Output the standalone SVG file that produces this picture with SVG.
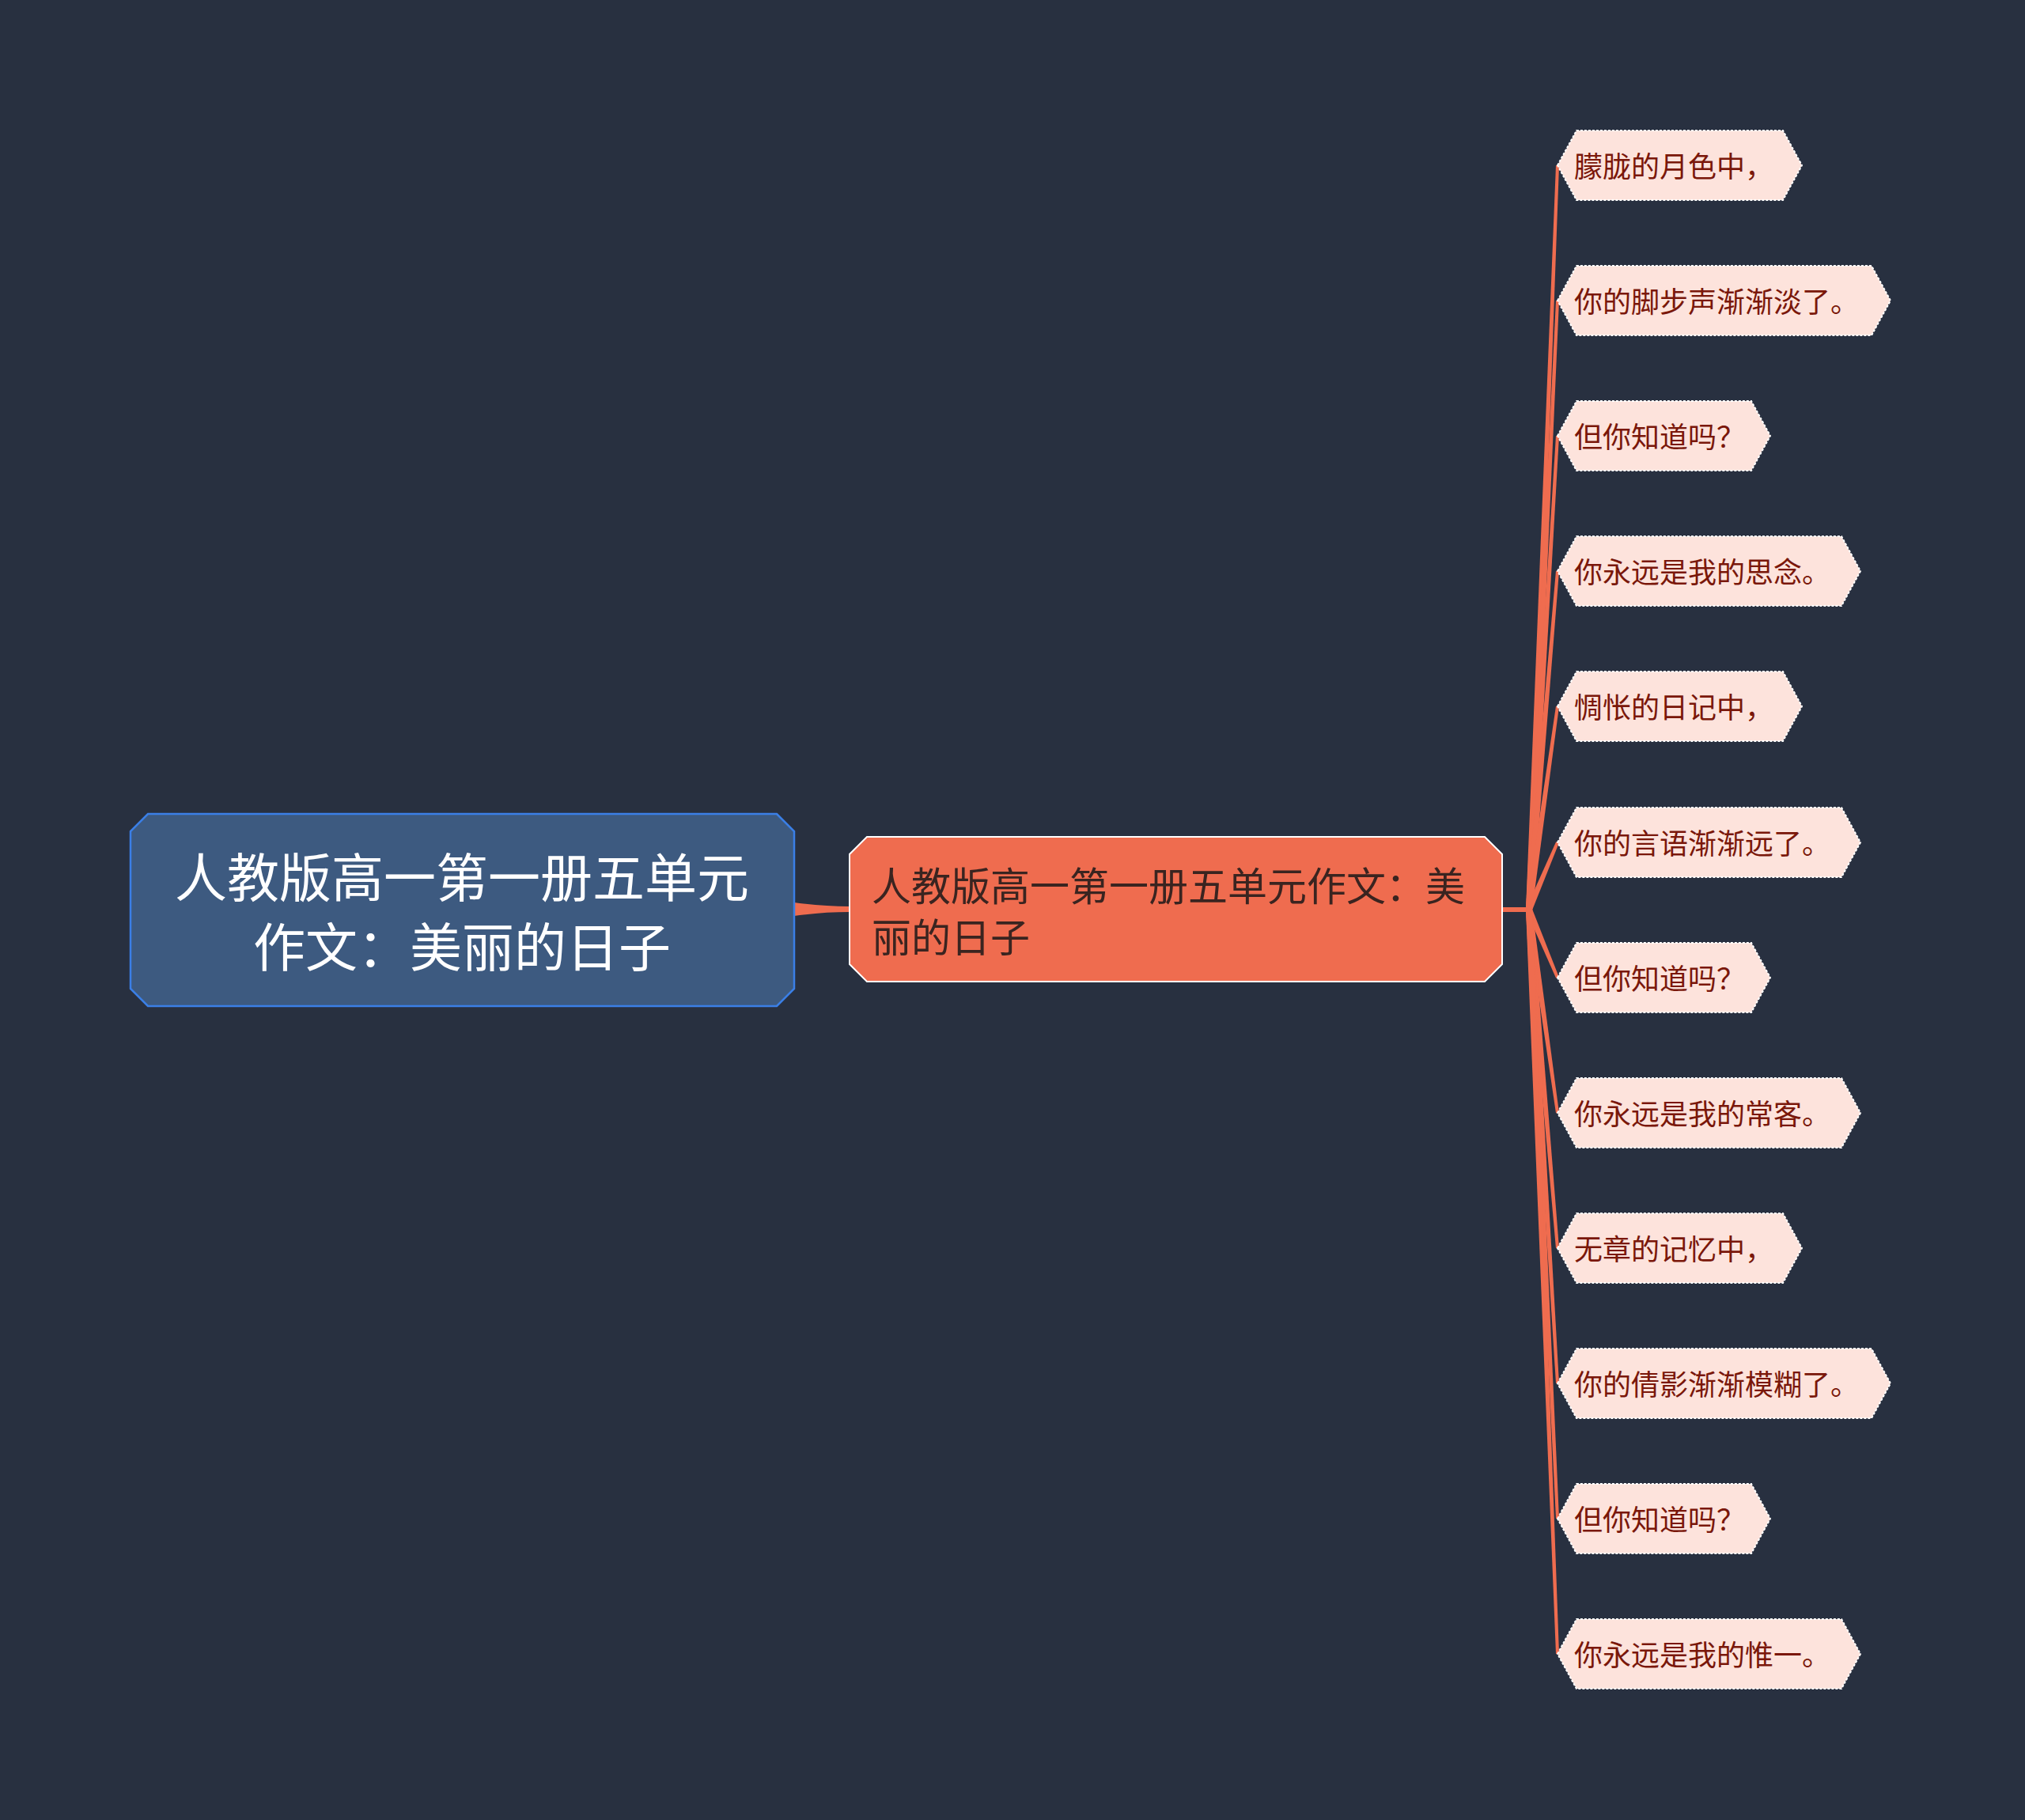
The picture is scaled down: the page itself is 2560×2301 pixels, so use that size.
<svg xmlns="http://www.w3.org/2000/svg" width="2560" height="2301" viewBox="0 0 2560 2301">
<style>
.leaf{fill:#fde3dc;stroke:#ffffff;stroke-width:2;stroke-dasharray:3 2}
.lt{font-family:"Noto Sans CJK SC","Noto Sans",sans-serif;font-size:36px;fill:#7a170a;dominant-baseline:central}
.rt{font-family:"Noto Sans CJK SC","Noto Sans",sans-serif;font-size:66px;fill:#ffffff;dominant-baseline:central;text-anchor:middle}
.mt{font-family:"Noto Sans CJK SC","Noto Sans",sans-serif;font-size:50px;fill:#3a2420;dominant-baseline:central}
.br{fill:#ef6c4f}
</style>
<rect width="2560" height="2301" fill="#283040"/>
<g id="connectors">
<path class="br" d="M1004,1141 Q1040,1146 1074,1146 L1074,1153 Q1040,1153 1004,1158 Z"/>
<rect class="br" x="1897" y="1147" width="38" height="6"/>
<polygon class="br" points="1937,1150 1971,209 1967,209 1929,1150"/>
<polygon class="br" points="1937,1150 1971,380 1967,380 1929,1150"/>
<polygon class="br" points="1937,1150 1971,551 1967,551 1929,1150"/>
<polygon class="br" points="1937,1150.3 1971,722.2 1967,721.8 1929,1149.7"/>
<polygon class="br" points="1936.96,1150.55 1970.98,893.28 1967.02,892.72 1929.04,1149.45"/>
<polygon class="br" points="1936.68,1151.56 1970.84,1065.78 1967.16,1064.22 1929.32,1148.44"/>
<polygon class="br" points="1929.31,1151.54 1967.16,1236.77 1970.84,1235.23 1936.69,1148.46"/>
<polygon class="br" points="1929.04,1150.55 1967.02,1407.28 1970.98,1406.72 1936.96,1149.45"/>
<polygon class="br" points="1929,1150.3 1967,1578.2 1971,1577.8 1937,1149.7"/>
<polygon class="br" points="1929,1150 1967,1749 1971,1749 1937,1150"/>
<polygon class="br" points="1929,1150 1967,1920 1971,1920 1937,1150"/>
<polygon class="br" points="1929,1150 1967,2091 1971,2091 1937,1150"/>
</g>
<g id="root">
<polygon points="187,1029 982,1029 1004,1051 1004,1250 982,1272 187,1272 165,1250 165,1051" fill="#3d5a80" stroke="#3b7fe6" stroke-width="2.5"/>
<text class="rt" x="584" y="1105">人教版高一第一册五单元</text>
<text class="rt" x="584" y="1193">作文：美丽的日子</text>
</g>
<g id="main">
<polygon points="1096,1058 1877,1058 1899,1080 1899,1219 1877,1241 1096,1241 1074,1219 1074,1080" fill="#ef6c4f" stroke="#ffffff" stroke-width="2"/>
<text class="mt" x="1102" y="1117">人教版高一第一册五单元作文：美</text>
<text class="mt" x="1102" y="1182">丽的日子</text>
</g>
<g id="leaf1"><polygon class="leaf" points="1969,209 1993,165 2254,165 2278,209 2254,253 1993,253"/><text class="lt" x="1990" y="208">朦胧的月色中，</text></g>
<g id="leaf2"><polygon class="leaf" points="1969,380 1993,336 2366,336 2390,380 2366,424 1993,424"/><text class="lt" x="1990" y="379">你的脚步声渐渐淡了。</text></g>
<g id="leaf3"><polygon class="leaf" points="1969,551 1993,507 2214,507 2238,551 2214,595 1993,595"/><text class="lt" x="1990" y="550">但你知道吗？</text></g>
<g id="leaf4"><polygon class="leaf" points="1969,722 1993,678 2328,678 2352,722 2328,766 1993,766"/><text class="lt" x="1990" y="721">你永远是我的思念。</text></g>
<g id="leaf5"><polygon class="leaf" points="1969,893 1993,849 2254,849 2278,893 2254,937 1993,937"/><text class="lt" x="1990" y="892">惆怅的日记中，</text></g>
<g id="leaf6"><polygon class="leaf" points="1969,1065 1993,1021 2328,1021 2352,1065 2328,1109 1993,1109"/><text class="lt" x="1990" y="1064">你的言语渐渐远了。</text></g>
<g id="leaf7"><polygon class="leaf" points="1969,1236 1993,1192 2214,1192 2238,1236 2214,1280 1993,1280"/><text class="lt" x="1990" y="1235">但你知道吗？</text></g>
<g id="leaf8"><polygon class="leaf" points="1969,1407 1993,1363 2328,1363 2352,1407 2328,1451 1993,1451"/><text class="lt" x="1990" y="1406">你永远是我的常客。</text></g>
<g id="leaf9"><polygon class="leaf" points="1969,1578 1993,1534 2254,1534 2278,1578 2254,1622 1993,1622"/><text class="lt" x="1990" y="1577">无章的记忆中，</text></g>
<g id="leaf10"><polygon class="leaf" points="1969,1749 1993,1705 2366,1705 2390,1749 2366,1793 1993,1793"/><text class="lt" x="1990" y="1748">你的倩影渐渐模糊了。</text></g>
<g id="leaf11"><polygon class="leaf" points="1969,1920 1993,1876 2214,1876 2238,1920 2214,1964 1993,1964"/><text class="lt" x="1990" y="1919">但你知道吗？</text></g>
<g id="leaf12"><polygon class="leaf" points="1969,2091 1993,2047 2328,2047 2352,2091 2328,2135 1993,2135"/><text class="lt" x="1990" y="2090">你永远是我的惟一。</text></g>
</svg>
